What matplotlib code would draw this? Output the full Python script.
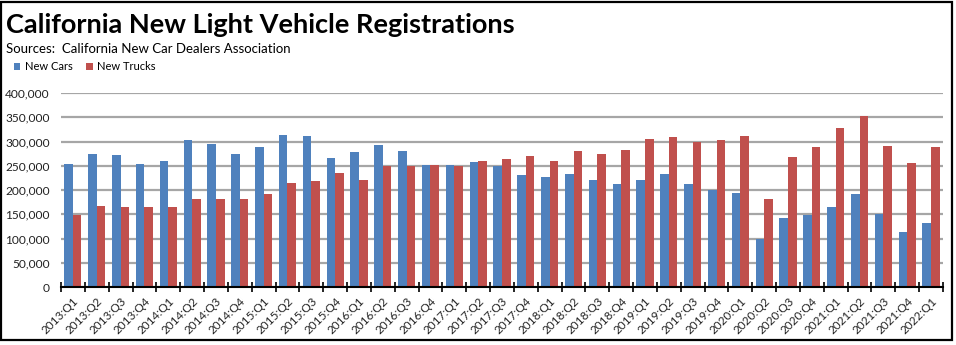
import numpy as np
import matplotlib
matplotlib.use('Agg')
import matplotlib.pyplot as plt
from matplotlib.patches import Rectangle


# quarterly registrations
quarters = ['2013:Q1', '2013:Q2', '2013:Q3', '2013:Q4',
            '2014:Q1', '2014:Q2', '2014:Q3', '2014:Q4',
            '2015:Q1', '2015:Q2', '2015:Q3', '2015:Q4',
            '2016:Q1', '2016:Q2', '2016:Q3', '2016:Q4',
            '2017:Q1', '2017:Q2', '2017:Q3', '2017:Q4',
            '2018:Q1', '2018:Q2', '2018:Q3', '2018:Q4',
            '2019:Q1', '2019:Q2', '2019:Q3', '2019:Q4',
            '2020:Q1', '2020:Q2', '2020:Q3', '2020:Q4',
            '2021:Q1', '2021:Q2', '2021:Q3', '2021:Q4',
            '2022:Q1']
new_cars = [254000, 275000, 272000, 254000,
            259000, 303000, 295000, 274000,
            288000, 314000, 311000, 265000,
            279000, 293000, 280000, 252000,
            252000, 258000, 250000, 230000,
            227000, 233000, 221000, 212000,
            221000, 233000, 212000, 199000,
            194000, 98000, 142000, 148000,
            164000, 192000, 151000, 114000,
            133000]
new_trucks = [148000, 168000, 164000, 165000,
              165000, 181000, 181000, 182000,
              192000, 215000, 219000, 236000,
              221000, 249000, 250000, 252000,
              250000, 260000, 264000, 270000,
              260000, 280000, 275000, 283000,
              306000, 309000, 299000, 303000,
              311000, 181000, 269000, 289000,
              327000, 352000, 291000, 256000,
              289000]

plt.rcParams['font.family'] = ['Lato', 'DejaVu Sans']

fig = plt.figure(figsize=(9.56, 3.45), dpi=100)
ax = fig.add_axes([0.0638, 0.1681, 0.9226, 0.5623])

x = np.arange(len(quarters))
w = 0.36
ax.bar(x - w / 2, new_cars, width=w, color='#4F81BD', label='New Cars', zorder=3)
ax.bar(x + w / 2, new_trucks, width=w, color='#C0504D', label='New Trucks', zorder=3)

ax.set_xlim(-0.5, len(quarters) - 0.5)
ax.set_ylim(0, 400000)
ax.set_yticks(np.arange(0, 400001, 50000))
ax.set_yticklabels([f'{v:,}' for v in range(0, 400001, 50000)], fontsize=8.6, color='#222222')
ax.tick_params(axis='y', length=0, pad=8)
ax.yaxis.grid(True, color='#A6A6A6', linewidth=1.6, zorder=0)

# labels at the bar pairs, tick marks between them
ax.set_xticks(x)
ax.set_xticklabels(quarters, rotation=45, ha='right', rotation_mode='anchor', fontsize=8.5, color='#222222')
ax.tick_params(axis='x', which='major', length=0, pad=6)
ax.set_xticks(np.arange(-0.5, len(quarters)), minor=True)
ax.tick_params(axis='x', which='minor', direction='inout', length=7, width=1.2, color='black')

for s in ['top', 'right', 'left']:
    ax.spines[s].set_visible(False)
ax.spines['bottom'].set_linewidth(1.5)
ax.spines['bottom'].set_zorder(4)

fig.text(0.006, 0.905, 'California New Light Vehicle Registrations', fontsize=19.5, fontweight='bold')
fig.text(0.006, 0.845, 'Sources:  California New Car Dealers Association', fontsize=9.5)
fig.legend(loc='upper left', bbox_to_anchor=(0.004, 0.852), ncol=2, frameon=False, fontsize=8,
           handlelength=0.6, handleheight=0.6, handletextpad=0.4, columnspacing=1.2)

fig.add_artist(Rectangle((0.0015, 0.0145), 0.9945, 0.981, transform=fig.transFigure,
                         fill=False, edgecolor='black', linewidth=1.6))

fig.savefig('out.png', dpi=100)
